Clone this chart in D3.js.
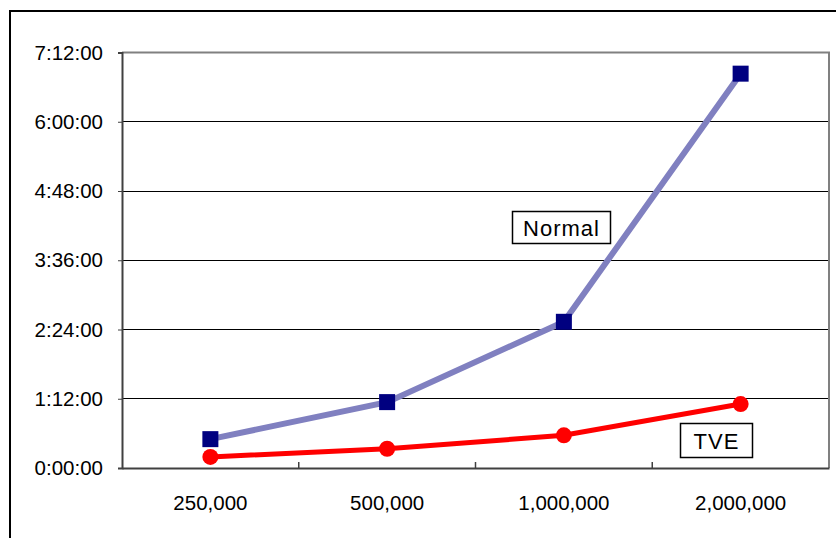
<!DOCTYPE html>
<html>
<head>
<meta charset="utf-8">
<script src="https://cdn.jsdelivr.net/npm/d3@7"></script>
<style>
  body { margin: 0; background: #fff; }
  svg { display: block; font-family: "Liberation Sans", Arial, sans-serif; }
</style>
</head>
<body>
<div id="chart"></div>
<script>
const width = 836;
const height = 538;

// records processed
const categories = ["250,000", "500,000", "1,000,000", "2,000,000"];
// run time in seconds
const normalTimes = [1800, 4110, 9120, 24600];
const tveTimes = [690, 1200, 2040, 3990];
const yTicks = [0, 4320, 8640, 12960, 17280, 21600, 25920];

const margin = { left: 122, top: 52.5, right: 829, bottom: 468 };
const axisFont = 20.5;

const svg = d3
  .select("#chart")
  .append("svg")
  .attr("width", width)
  .attr("height", height);

// outer chart frame (runs off the right and bottom edges)
svg
  .append("rect")
  .attr("x", 10)
  .attr("y", 11)
  .attr("width", 900)
  .attr("height", 600)
  .attr("fill", "#fff")
  .attr("stroke", "#000")
  .attr("stroke-width", 2);

const x = d3
  .scaleBand()
  .domain(categories)
  .range([margin.left, margin.right])
  .padding(0);

const y = d3
  .scaleLinear()
  .domain([0, 25920])
  .range([margin.bottom, margin.top]);

const fmtTime = (s) => {
  const h = Math.floor(s / 3600);
  const m = Math.floor((s % 3600) / 60);
  const sec = s % 60;
  return `${h}:${String(m).padStart(2, "0")}:${String(sec).padStart(2, "0")}`;
};

// gridlines
svg
  .append("g")
  .selectAll("line")
  .data(yTicks.slice(1, -1))
  .enter()
  .append("line")
  .attr("x1", margin.left)
  .attr("x2", margin.right)
  .attr("y1", (d) => y(d))
  .attr("y2", (d) => y(d))
  .attr("stroke", "#000")
  .attr("stroke-width", 1)
  .attr("shape-rendering", "crispEdges");

// plot border top + right
svg
  .append("path")
  .attr(
    "d",
    `M${margin.left},${margin.top}H${margin.right}V${margin.bottom}`
  )
  .attr("fill", "none")
  .attr("stroke", "#808080")
  .attr("stroke-width", 2);

// y axis
const yAxis = svg
  .append("g")
  .attr("transform", `translate(${margin.left},0)`)
  .call(d3.axisLeft(y).tickValues(yTicks).tickFormat(fmtTime).tickSize(4).tickPadding(15));
yAxis.attr("font-size", axisFont).attr("font-family", "Liberation Sans, Arial, sans-serif");
yAxis.select(".domain").attr("stroke", "#404040").attr("stroke-width", 2);
yAxis.selectAll(".tick line").attr("stroke", "#404040");
yAxis.selectAll("text").attr("fill", "#000");

// x axis
const xAxis = svg
  .append("g")
  .attr("transform", `translate(0,${margin.bottom})`)
  .call(d3.axisBottom(x).tickSize(0).tickPadding(27));
xAxis.attr("font-size", axisFont).attr("font-family", "Liberation Sans, Arial, sans-serif");
xAxis.select(".domain").attr("stroke", "#404040").attr("stroke-width", 2);
xAxis.selectAll("text").attr("fill", "#000");

// inward tick marks between categories
svg
  .append("g")
  .selectAll("line")
  .data(categories.slice(1))
  .enter()
  .append("line")
  .attr("x1", (d) => x(d))
  .attr("x2", (d) => x(d))
  .attr("y1", margin.bottom)
  .attr("y2", margin.bottom - 6)
  .attr("stroke", "#404040")
  .attr("stroke-width", 1.5);

const cx = (d, i) => x(categories[i]) + x.bandwidth() / 2;

const line = d3
  .line()
  .x(cx)
  .y((d) => y(d));

// Normal series
svg
  .append("path")
  .datum(normalTimes)
  .attr("d", line)
  .attr("fill", "none")
  .attr("stroke", "#8080C0")
  .attr("stroke-width", 6);

svg
  .append("g")
  .selectAll("rect")
  .data(normalTimes)
  .enter()
  .append("rect")
  .attr("x", (d, i) => cx(d, i) - 8)
  .attr("y", (d) => y(d) - 8)
  .attr("width", 16)
  .attr("height", 16)
  .attr("fill", "#000080");

// TVE series
svg
  .append("path")
  .datum(tveTimes)
  .attr("d", line)
  .attr("fill", "none")
  .attr("stroke", "#FF0000")
  .attr("stroke-width", 5);

svg
  .append("g")
  .selectAll("circle")
  .data(tveTimes)
  .enter()
  .append("circle")
  .attr("cx", cx)
  .attr("cy", (d) => y(d))
  .attr("r", 8)
  .attr("fill", "#FF0000");

// series labels
function labelBox(text, bx, by, bw, bh) {
  svg
    .append("rect")
    .attr("x", bx)
    .attr("y", by)
    .attr("width", bw)
    .attr("height", bh)
    .attr("fill", "#fff")
    .attr("stroke", "#000")
    .attr("stroke-width", 1.5);
  svg
    .append("text")
    .attr("x", bx + bw / 2)
    .attr("y", by + bh / 2 + 8)
    .attr("text-anchor", "middle")
    .attr("font-size", 22)
    .attr("letter-spacing", 1)
    .text(text);
}

labelBox("Normal", 512.5, 211.5, 98, 32);
labelBox("TVE", 680.5, 423.5, 72, 34);
</script>
</body>
</html>
